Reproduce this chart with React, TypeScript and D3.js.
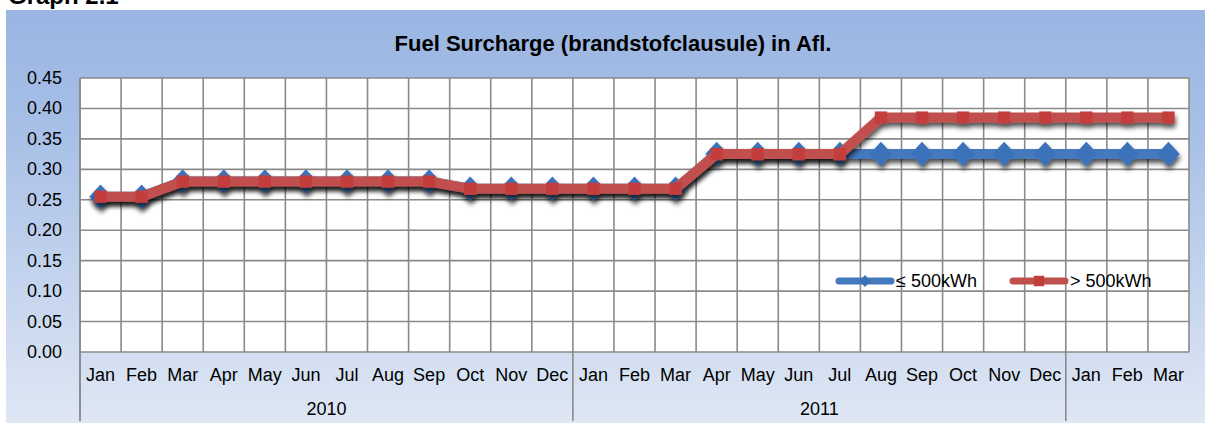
import React from "react";
import * as d3 from "d3";

const months = ["Jan","Feb","Mar","Apr","May","Jun","Jul","Aug","Sep","Oct","Nov","Dec","Jan","Feb","Mar","Apr","May","Jun","Jul","Aug","Sep","Oct","Nov","Dec","Jan","Feb","Mar"];
const years = [
  { label: "2010", start: 0, end: 12 },
  { label: "2011", start: 12, end: 24 },
  { label: "", start: 24, end: 27 },
];
const small = [0.255,0.255,0.28,0.28,0.28,0.28,0.28,0.28,0.28,0.268,0.268,0.268,0.268,0.268,0.268,0.325,0.325,0.325,0.325,0.325,0.325,0.325,0.325,0.325,0.325,0.325,0.325];
const large = [0.255,0.255,0.28,0.28,0.28,0.28,0.28,0.28,0.28,0.268,0.268,0.268,0.268,0.268,0.268,0.325,0.325,0.325,0.325,0.385,0.385,0.385,0.385,0.385,0.385,0.385,0.385];
const yTicks = [0,0.05,0.1,0.15,0.2,0.25,0.3,0.35,0.4,0.45];
const seriesNames = ["≤ 500kWh", "> 500kWh"];

const W = 1205, H = 423;
const L = 80, R = 1189, T = 78, B = 352;
const FONT = "'Liberation Sans', Arial, sans-serif";
const BLUE = "#4579be";
const BLUE_M = "#3a72ba";
const RED = "#c0504d";
const RED_M = "#c23e3b";
const GRID = "#8a8a8a";

const wideDiamond = {
  draw(ctx: any, size: number) {
    const h = Math.sqrt(size) / 2;
    const w = h * 0.92;
    ctx.moveTo(0, -h);
    ctx.lineTo(w, 0);
    ctx.lineTo(0, h);
    ctx.lineTo(-w, 0);
    ctx.closePath();
  },
};

export default function App() {
  const x = d3.scaleBand<number>().domain(d3.range(months.length)).range([L, R]).padding(0);
  const y = d3.scaleLinear().domain([0, 0.45]).range([B, T]);
  const cx = (i: number) => (x(i) as number) + x.bandwidth() / 2;
  const line = d3.line<number>().x((_, i) => cx(i)).y((d) => y(d));
  const diamond = d3.symbol().type(wideDiamond as any).size(600)();
  const square = d3.symbol().type(d3.symbolSquare).size(150)();
  const legDiamond = d3.symbol().type(wideDiamond as any).size(150)();
  const legSquare = d3.symbol().type(d3.symbolSquare).size(110)();
  const boundaries = d3.range(months.length + 1).map((i) => L + i * x.bandwidth());

  return (
    <div style={{ position: "absolute", left: 0, top: 0 }}>
      <svg width={W} height={H} style={{ display: "block", fontFamily: FONT }}>
        <defs>
          <linearGradient id="bg" x1="0" y1="0" x2="0" y2="1">
            <stop offset="0" stopColor="#9ab5e2" />
            <stop offset="0.3" stopColor="#a8c0e7" />
            <stop offset="1" stopColor="#dfe7f4" />
          </linearGradient>
          <filter id="sh" x="-10%" y="-30%" width="120%" height="180%">
            <feGaussianBlur in="SourceAlpha" stdDeviation="2.8" />
            <feOffset dx="1" dy="4" result="b" />
            <feComponentTransfer><feFuncA type="linear" slope="0.7" /></feComponentTransfer>
            <feMerge><feMergeNode /><feMergeNode in="SourceGraphic" /></feMerge>
          </filter>
        </defs>
        <rect x={0} y={0} width={W} height={H} fill="#fff" />
        <text x={8} y={4} fontSize={24} fontWeight="bold" fill="#000">Graph 2.1</text>
        <rect x={6} y={10} width={W - 6} height={H - 10} fill="url(#bg)" />
        <text x={613} y={51} textAnchor="middle" fontSize={22} fontWeight="bold" fill="#000">
          Fuel Surcharge (brandstofclausule) in Afl.
        </text>
        <rect x={L} y={T} width={R - L} height={B - T} fill="#fff" />
        {yTicks.map((t) => (
          <line key={"h" + t} x1={L} x2={R} y1={y(t)} y2={y(t)} stroke={GRID} strokeWidth={1.6} />
        ))}
        {boundaries.map((bx, i) => (
          <line key={"v" + i} x1={bx} x2={bx} y1={T} y2={B} stroke={GRID} strokeWidth={1.6} />
        ))}
        {yTicks.map((t) => (
          <text key={"yl" + t} x={62} y={y(t) + 6} textAnchor="end" fontSize={18} fill="#000">
            {t.toFixed(2)}
          </text>
        ))}
        {months.map((m, i) => (
          <text key={"m" + i} x={cx(i)} y={381} textAnchor="middle" fontSize={18} fill="#000">{m}</text>
        ))}
        {years.map((yr) => {
          const x0 = L + yr.start * x.bandwidth();
          const x1 = L + yr.end * x.bandwidth();
          return (
            <text key={"y" + yr.start} x={(x0 + x1) / 2} y={415} textAnchor="middle" fontSize={18} fill="#000">{yr.label}</text>
          );
        })}
        {[0, 12, 24].map((s) => (
          <line key={"sep" + s} x1={L + s * x.bandwidth()} x2={L + s * x.bandwidth()} y1={B} y2={421} stroke={GRID} strokeWidth={1.6} />
        ))}
        <line x1={L} x2={L} y1={T} y2={421} stroke={GRID} strokeWidth={1.6} />
        <g filter="url(#sh)">
          <path d={line(small) || ""} fill="none" stroke={BLUE} strokeWidth={10} strokeLinejoin="round" />
          {small.map((v, i) => (
            <path key={"d" + i} d={diamond || ""} transform={`translate(${cx(i)},${y(v)})`} fill={BLUE_M} />
          ))}
        </g>
        <g filter="url(#sh)">
          <path d={line(large) || ""} fill="none" stroke={RED} strokeWidth={10} strokeLinejoin="miter" />
          {large.map((v, i) => (
            <path key={"s" + i} d={square || ""} transform={`translate(${cx(i)},${y(v)})`} fill={RED_M} />
          ))}
        </g>
        <g>
          <line x1={839} x2={891} y1={281} y2={281} stroke={BLUE} strokeWidth={7} strokeLinecap="round" />
          <path d={legDiamond || ""} transform="translate(865,281)" fill={BLUE_M} />
          <text x={896} y={287} fontSize={18} fill="#000">{seriesNames[0]}</text>
          <line x1={1013} x2={1065} y1={281} y2={281} stroke={RED} strokeWidth={7} strokeLinecap="round" />
          <path d={legSquare || ""} transform="translate(1039,281)" fill={RED_M} />
          <text x={1070} y={287} fontSize={18} fill="#000">{seriesNames[1]}</text>
        </g>
      </svg>
    </div>
  );
}
